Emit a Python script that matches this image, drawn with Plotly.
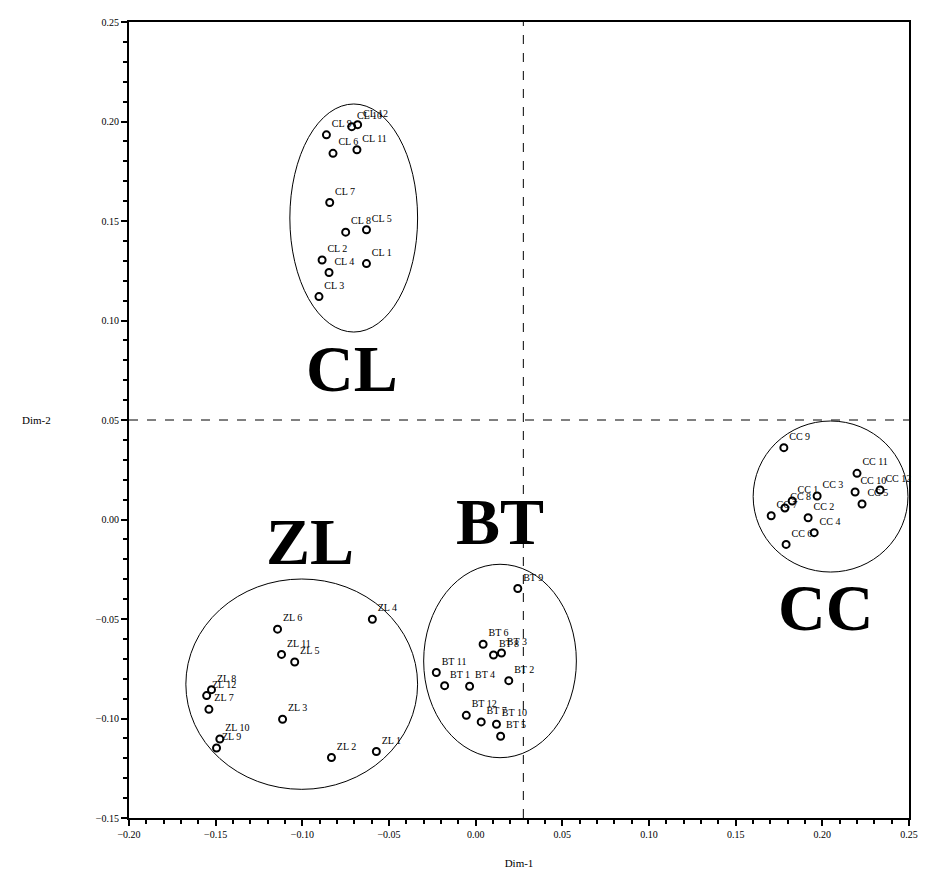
import plotly.graph_objects as go

# ---- data (Dim-1, Dim-2) ----
cl_names = ["CL 1", "CL 2", "CL 3", "CL 4", "CL 5", "CL 6", "CL 7", "CL 8", "CL 9", "CL 10", "CL 11", "CL 12"]
cl_x = [-0.0630, -0.0886, -0.0904, -0.0846, -0.0630, -0.0823, -0.0842, -0.0750, -0.0861, -0.0715, -0.0685, -0.0681]
cl_y = [0.1286, 0.1304, 0.1120, 0.1241, 0.1456, 0.1840, 0.1593, 0.1444, 0.1933, 0.1974, 0.1858, 0.1984]

zl_names = ["ZL 1", "ZL 2", "ZL 3", "ZL 4", "ZL 5", "ZL 6", "ZL 7", "ZL 8", "ZL 9", "ZL 10", "ZL 11", "ZL 12"]
zl_x = [-0.0573, -0.0832, -0.1114, -0.0596, -0.1044, -0.1143, -0.1539, -0.1524, -0.1495, -0.1476, -0.1120, -0.1552]
zl_y = [-0.1166, -0.1196, -0.1004, -0.0501, -0.0716, -0.0551, -0.0954, -0.0855, -0.1148, -0.1103, -0.0678, -0.0885]

bt_names = ["BT 1", "BT 2", "BT 3", "BT 4", "BT 5", "BT 6", "BT 7", "BT 8", "BT 9", "BT 10", "BT 11", "BT 12"]
bt_x = [-0.0179, 0.0191, 0.0149, -0.0035, 0.0144, 0.0043, 0.0032, 0.0103, 0.0243, 0.0120, -0.0227, -0.0054]
bt_y = [-0.0835, -0.0810, -0.0671, -0.0838, -0.1089, -0.0627, -0.1017, -0.0681, -0.0347, -0.1029, -0.0769, -0.0984]

cc_names = ["CC 1", "CC 2", "CC 3", "CC 4", "CC 5", "CC 6", "CC 7", "CC 8", "CC 9", "CC 10", "CC 11", "CC 12"]
cc_x = [0.1826, 0.1918, 0.1970, 0.1953, 0.2229, 0.1791, 0.1705, 0.1784, 0.1778, 0.2189, 0.2200, 0.2333]
cc_y = [0.0093, 0.0009, 0.0118, -0.0066, 0.0078, -0.0125, 0.0019, 0.0058, 0.0361, 0.0138, 0.0232, 0.0148]

group_names = ["CL", "ZL", "BT", "CC"]
group_label_x = [-0.0715, -0.0957, 0.0138, 0.2016]
group_label_y = [0.0760, -0.0110, -0.0010, -0.0440]

# ellipse extents per group: x0, x1, y0, y1
ellipses = [
    (-0.1072, -0.0335, 0.0942, 0.2088),
    (-0.1672, -0.0335, -0.1356, -0.0299),
    (-0.0300, 0.0581, -0.1197, -0.0225),
    (0.1601, 0.2494, -0.0264, 0.0495),
]

x_ref = 0.0275
y_ref = 0.05

SERIF = "Liberation Serif"

fig = go.Figure()
for names, xs, ys in [(cl_names, cl_x, cl_y), (zl_names, zl_x, zl_y),
                      (bt_names, bt_x, bt_y), (cc_names, cc_x, cc_y)]:
    fig.add_trace(go.Scatter(
        x=xs, y=ys, text=names, mode="markers+text",
        textposition="top right",
        textfont=dict(family=SERIF, size=10, color="black"),
        marker=dict(symbol="circle-open", size=7, color="black", line=dict(width=2, color="black")),
        cliponaxis=False, showlegend=False,
    ))

shapes = []
for (x0, x1, y0, y1) in ellipses:
    shapes.append(dict(type="circle", xref="x", yref="y", x0=x0, x1=x1, y0=y0, y1=y1,
                       line=dict(color="black", width=1)))
shapes.append(dict(type="line", xref="x", yref="y", x0=x_ref, x1=x_ref, y0=-0.15, y1=0.25,
                   line=dict(color="black", width=1, dash="dash")))
shapes.append(dict(type="line", xref="x", yref="y", x0=-0.2, x1=0.25, y0=y_ref, y1=y_ref,
                   line=dict(color="black", width=1, dash="dash")))

annotations = []
for g, gx, gy in zip(group_names, group_label_x, group_label_y):
    annotations.append(dict(x=gx, y=gy, xref="x", yref="y", text="<b>%s</b>" % g, showarrow=False,
                            font=dict(family=SERIF, size=66, color="black")))
annotations.append(dict(x=-0.14, y=y_ref, xref="paper", yref="y", text="Dim-2", showarrow=False,
                        xanchor="left", font=dict(family=SERIF, size=11, color="black")))

axis_common = dict(
    showgrid=False, zeroline=False, showline=True, linecolor="black", linewidth=2,
    mirror=True, ticks="outside", ticklen=6, tickwidth=2, tickcolor="black",
    tickformat=".2f", dtick=0.05,
    tickfont=dict(family=SERIF, size=10, color="black"),
    minor=dict(dtick=0.01, ticks="outside", ticklen=4, tickwidth=2, tickcolor="black"),
)

fig.update_layout(
    width=918, height=868,
    margin=dict(l=121, r=16, t=8, b=52),
    plot_bgcolor="white", paper_bgcolor="white",
    xaxis=dict(range=[-0.2, 0.25], tick0=-0.2,
               title=dict(text="Dim-1", font=dict(family=SERIF, size=11, color="black"), standoff=20),
               **axis_common),
    yaxis=dict(range=[-0.15, 0.25], tick0=-0.15, **axis_common),
    shapes=shapes, annotations=annotations,
)

fig.write_html("out.html")
